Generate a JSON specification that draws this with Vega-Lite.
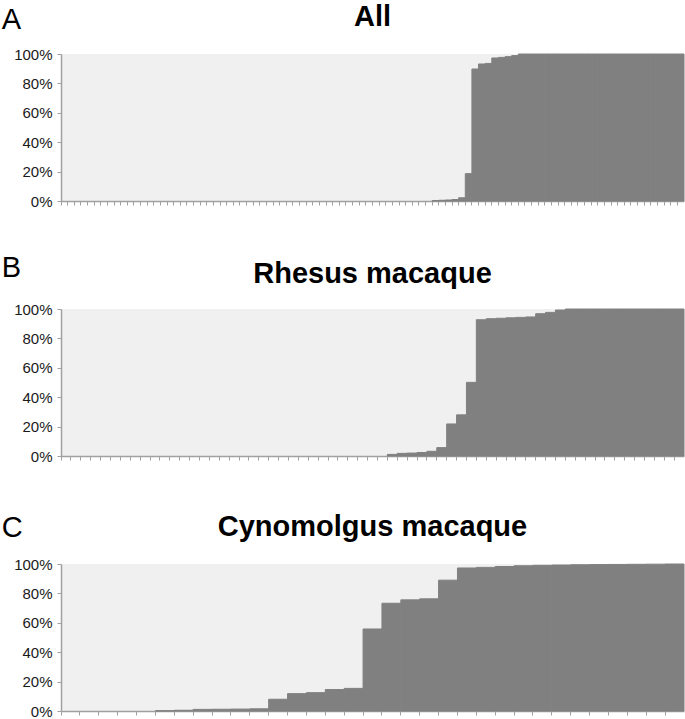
{
  "$schema": "https://vega.github.io/schema/vega-lite/v6.json",
  "padding": {"left": 1, "top": 3, "right": 0, "bottom": 0},
  "background": "white",
  "spacing": 45,
  "config": {
    "font": "Liberation Sans",
    "view": {"fill": "#f0f0f0", "stroke": null},
    "axis": {"domainColor": "#a0a0a0", "tickColor": "#a0a0a0", "grid": false, "labelColor": "#1a1a1a", "labelFont": "Liberation Sans", "labelFontSize": 15, "tickSize": 4, "domainWidth": 1.5, "tickWidth": 1},
    "title": {"font": "Liberation Sans", "color": "#000000"}
  },
  "datasets": {
    "a": [
      {"k":0,"v":0},{"k":1,"v":0},{"k":2,"v":0},{"k":3,"v":0},{"k":4,"v":0},{"k":5,"v":0},{"k":6,"v":0},{"k":7,"v":0},{"k":8,"v":0},{"k":9,"v":0},
      {"k":10,"v":0},{"k":11,"v":0},{"k":12,"v":0},{"k":13,"v":0},{"k":14,"v":0},{"k":15,"v":0},{"k":16,"v":0},{"k":17,"v":0},{"k":18,"v":0},{"k":19,"v":0},
      {"k":20,"v":0},{"k":21,"v":0},{"k":22,"v":0},{"k":23,"v":0},{"k":24,"v":0},{"k":25,"v":0},{"k":26,"v":0},{"k":27,"v":0},{"k":28,"v":0},{"k":29,"v":0},
      {"k":30,"v":0},{"k":31,"v":0},{"k":32,"v":0},{"k":33,"v":0},{"k":34,"v":0},{"k":35,"v":0},{"k":36,"v":0},{"k":37,"v":0},{"k":38,"v":0},{"k":39,"v":0},
      {"k":40,"v":0},{"k":41,"v":0},{"k":42,"v":0},{"k":43,"v":0},{"k":44,"v":0},{"k":45,"v":0},{"k":46,"v":0},{"k":47,"v":0},{"k":48,"v":0},{"k":49,"v":0},
      {"k":50,"v":0},{"k":51,"v":0},{"k":52,"v":0},{"k":53,"v":0},{"k":54,"v":0},{"k":55,"v":0},{"k":56,"v":0.3},{"k":57,"v":0.5},{"k":58,"v":0.7},{"k":59,"v":1.0},
      {"k":60,"v":2.2},{"k":61,"v":18.6},{"k":62,"v":89.8},{"k":63,"v":93.2},{"k":64,"v":93.6},{"k":65,"v":97.3},{"k":66,"v":97.7},{"k":67,"v":98.2},{"k":68,"v":98.9},{"k":69,"v":100},
      {"k":70,"v":100},{"k":71,"v":100},{"k":72,"v":100},{"k":73,"v":100},{"k":74,"v":100},{"k":75,"v":100},{"k":76,"v":100},{"k":77,"v":100},{"k":78,"v":100},{"k":79,"v":100},
      {"k":80,"v":100},{"k":81,"v":100},{"k":82,"v":100},{"k":83,"v":100},{"k":84,"v":100},{"k":85,"v":100},{"k":86,"v":100},{"k":87,"v":100},{"k":88,"v":100},{"k":89,"v":100},
      {"k":90,"v":100},{"k":91,"v":100},{"k":92,"v":100},{"k":93,"v":100}
    ],
    "b": [
      {"k":0,"v":0},{"k":1,"v":0},{"k":2,"v":0},{"k":3,"v":0},{"k":4,"v":0},{"k":5,"v":0},{"k":6,"v":0},{"k":7,"v":0},{"k":8,"v":0},{"k":9,"v":0},
      {"k":10,"v":0},{"k":11,"v":0},{"k":12,"v":0},{"k":13,"v":0},{"k":14,"v":0},{"k":15,"v":0},{"k":16,"v":0},{"k":17,"v":0},{"k":18,"v":0},{"k":19,"v":0},
      {"k":20,"v":0},{"k":21,"v":0},{"k":22,"v":0},{"k":23,"v":0},{"k":24,"v":0},{"k":25,"v":0},{"k":26,"v":0},{"k":27,"v":0},{"k":28,"v":0},{"k":29,"v":0},
      {"k":30,"v":0},{"k":31,"v":0},{"k":32,"v":0},{"k":33,"v":1.1},{"k":34,"v":1.8},{"k":35,"v":2.0},{"k":36,"v":2.4},{"k":37,"v":3.2},{"k":38,"v":5.7},{"k":39,"v":21.8},
      {"k":40,"v":28.0},{"k":41,"v":50.1},{"k":42,"v":92.7},{"k":43,"v":93.4},{"k":44,"v":93.7},{"k":45,"v":94.0},{"k":46,"v":94.3},{"k":47,"v":94.6},{"k":48,"v":96.8},{"k":49,"v":97.7},
      {"k":50,"v":99.3},{"k":51,"v":100},{"k":52,"v":100},{"k":53,"v":100},{"k":54,"v":100},{"k":55,"v":100},{"k":56,"v":100},{"k":57,"v":100},{"k":58,"v":100},{"k":59,"v":100},
      {"k":60,"v":100},{"k":61,"v":100},{"k":62,"v":100}
    ],
    "c": [
      {"k":0,"v":0},{"k":1,"v":0},{"k":2,"v":0},{"k":3,"v":0},{"k":4,"v":0},{"k":5,"v":0.2},{"k":6,"v":0.5},{"k":7,"v":1.1},{"k":8,"v":1.2},{"k":9,"v":1.3},
      {"k":10,"v":1.5},{"k":11,"v":8.0},{"k":12,"v":11.8},{"k":13,"v":12.5},{"k":14,"v":14.6},{"k":15,"v":15.4},{"k":16,"v":55.8},{"k":17,"v":73.3},{"k":18,"v":75.6},{"k":19,"v":76.3},
      {"k":20,"v":89.0},{"k":21,"v":97.3},{"k":22,"v":97.7},{"k":23,"v":98.3},{"k":24,"v":98.8},{"k":25,"v":99.1},{"k":26,"v":99.3},{"k":27,"v":99.5},{"k":28,"v":99.6},{"k":29,"v":99.7},
      {"k":30,"v":99.8},{"k":31,"v":99.9},{"k":32,"v":100}
    ]
  },
  "vconcat": [
    {
      "title": {"text": "A", "anchor": "start", "frame": "bounds", "fontSize": 29, "fontWeight": "normal", "dx": -12, "dy": 32, "offset": 0},
      "vconcat": [
        {
          "title": {"text": "All", "anchor": "middle", "fontSize": 29, "fontWeight": "bold", "offset": 15},
          "width": 623, "height": 147,
          "data": {"name": "a"},
          "mark": {"type": "bar", "color": "#808080", "stroke": "#808080", "strokeWidth": 1},
          "encoding": {
            "x": {"field": "k", "type": "ordinal", "scale": {"paddingInner": 0, "paddingOuter": 0}, "axis": {"labels": false, "title": null, "bandPosition": 0}},
            "y": {"field": "v", "type": "quantitative", "scale": {"domain": [0, 100]}, "axis": {"values": [0, 20, 40, 60, 80, 100], "labelExpr": "datum.value + '%'", "title": null, "labelPadding": 5}},
            "strokeOpacity": {"condition": {"test": "datum.v > 0", "value": 1}, "value": 0}
          }
        }
      ]
    },
    {
      "spacing": 49,
      "vconcat": [
        {
          "title": {"text": "B", "anchor": "start", "frame": "bounds", "fontSize": 29, "fontWeight": "normal", "dx": -12, "dy": 23, "offset": 0},
          "vconcat": [
            {
              "title": {"text": "Rhesus macaque", "anchor": "middle", "fontSize": 29, "fontWeight": "bold", "offset": 13},
              "width": 623, "height": 147,
              "data": {"name": "b"},
              "mark": {"type": "bar", "color": "#808080", "stroke": "#808080", "strokeWidth": 1},
              "encoding": {
                "x": {"field": "k", "type": "ordinal", "scale": {"paddingInner": 0, "paddingOuter": 0}, "axis": {"labels": false, "title": null, "bandPosition": 0}},
                "y": {"field": "v", "type": "quantitative", "scale": {"domain": [0, 100]}, "axis": {"values": [0, 20, 40, 60, 80, 100], "labelExpr": "datum.value + '%'", "title": null, "labelPadding": 5}},
                "strokeOpacity": {"condition": {"test": "datum.v > 0", "value": 1}, "value": 0}
              }
            }
          ]
        },
        {
          "title": {"text": "C", "anchor": "start", "frame": "bounds", "fontSize": 29, "fontWeight": "normal", "dx": -12, "dy": 30, "offset": 0},
          "vconcat": [
            {
              "title": {"text": "Cynomolgus macaque", "anchor": "middle", "fontSize": 29, "fontWeight": "bold", "offset": 15},
              "width": 623, "height": 147,
              "data": {"name": "c"},
              "mark": {"type": "bar", "color": "#808080", "stroke": "#808080", "strokeWidth": 1},
              "encoding": {
                "x": {"field": "k", "type": "ordinal", "scale": {"paddingInner": 0, "paddingOuter": 0}, "axis": {"labels": false, "title": null, "bandPosition": 0}},
                "y": {"field": "v", "type": "quantitative", "scale": {"domain": [0, 100]}, "axis": {"values": [0, 20, 40, 60, 80, 100], "labelExpr": "datum.value + '%'", "title": null, "labelPadding": 5}},
                "strokeOpacity": {"condition": {"test": "datum.v > 0", "value": 1}, "value": 0}
              }
            }
          ]
        }
      ]
    }
  ]
}
